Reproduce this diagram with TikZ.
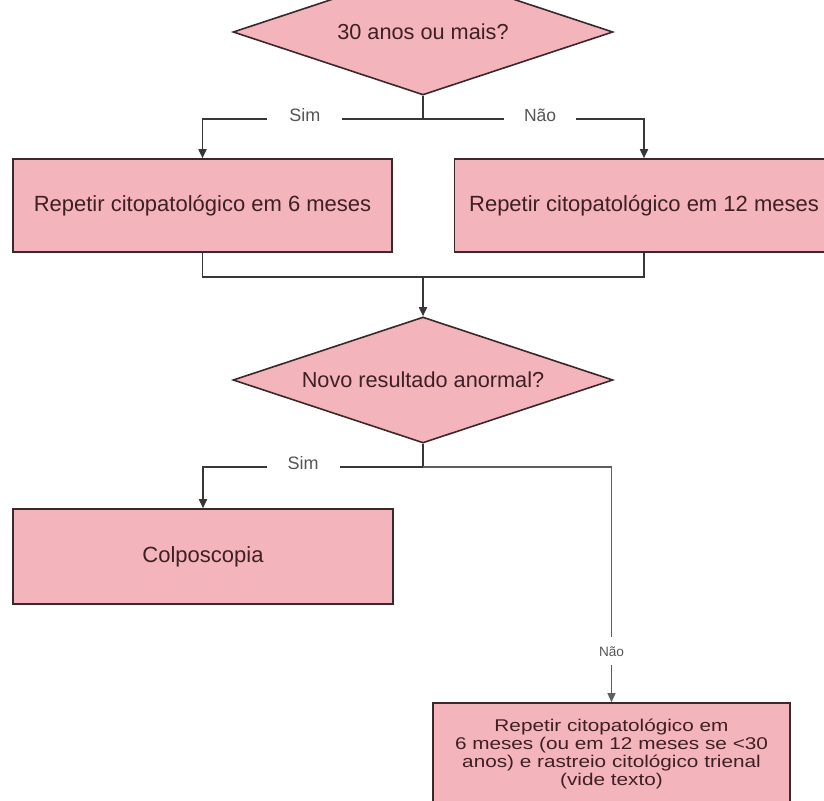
\documentclass[tikz,border=0pt]{standalone}
\usepackage{fontspec}
\setmainfont{Liberation Sans}
\newfontfamily\widefont[FakeStretch=1.22]{Liberation Sans}
\usetikzlibrary{shapes.geometric,arrows.meta}
\definecolor{pinkfill}{RGB}{244,180,187}
\definecolor{edgecol}{RGB}{58,40,42}
\definecolor{txtcol}{RGB}{62,32,36}
\definecolor{linecol}{RGB}{55,55,55}
\definecolor{thincol}{RGB}{95,95,95}
\definecolor{labcol}{RGB}{85,85,85}
\begin{document}
\begin{tikzpicture}[x=1pt,y=-1pt,
  decision/.style={diamond, shape aspect=3.016, draw=edgecol, fill=pinkfill, line width=1.6pt, inner sep=0pt,
    minimum width=380pt, minimum height=126pt, text=txtcol, font=\fontsize{21.7}{26}\selectfont},
  stepbox/.style={rectangle, draw=edgecol, fill=pinkfill, line width=1.6pt, inner sep=0pt,
    text=txtcol, font=\fontsize{22}{26}\selectfont},
  conn/.style={draw=linecol, line width=1.7pt},
  thinconn/.style={draw=thincol, line width=1.3pt},
  tip/.style={-{Triangle[length=9pt,width=8pt]}},
  lab/.style={fill=white, text=labcol, inner ysep=2pt, font=\fontsize{18}{20}\selectfont}]
\useasboundingbox (0,0) rectangle (824,800);
\fill[white] (0,0) rectangle (824,800);

% nodes
\node[decision] (d1) at (423,32) {30 anos ou mais?};
\node[stepbox, minimum width=379pt, minimum height=93pt] (b1) at (202.5,205.5)
  {Repetir citopatológico em 6 meses};
\node[stepbox, minimum width=379pt, minimum height=93pt] (b2) at (644,205.5)
  {Repetir citopatológico em 12 meses};
\node[decision] (d2) at (423,380) {Novo resultado anormal?};
\node[stepbox, minimum width=380pt, minimum height=95pt] (colpo) at (203,556.5) {Colposcopia};
\node[stepbox, minimum width=357pt, minimum height=102pt, align=center,
  font=\widefont\fontsize{17}{18.3}\selectfont] (fin) at (611.5,754)
  {Repetir citopatológico em\\6 meses (ou em 12 meses se <30\\anos) e rastreio citológico trienal\\(vide texto)};

% junction coordinates
\coordinate (j1) at (423,119);
\coordinate (j2) at (423,277);
\coordinate (j3) at (423,467);
\coordinate (j3e) at (471,467);

% connectors
\draw[conn] (d1.south) -- (j1);
\draw[conn, tip] (j1) -| node[lab, pos=0.268, yshift=4pt, inner xsep=22pt] {Sim} (b1.north);
\draw[conn, tip] (j1) -| node[lab, pos=0.265, yshift=4pt, inner xsep=20pt,
  font=\fontsize{17.5}{20}\selectfont] {Não} (b2.north);

\draw[conn] (b1.south) |- (j2);
\draw[conn] (b2.south) |- (j2);
\draw[conn, tip] (j2) -- (d2.north);

\draw[conn] (d2.south) -- (j3);
\draw[conn, tip] (j3e) -| node[lab, pos=0.313, yshift=4pt, inner xsep=21pt] {Sim} (colpo.north);
\draw[thinconn, tip] (j3) -| node[lab, pos=0.892, inner xsep=1pt, inner ysep=9pt,
  font=\fontsize{13.6}{15}\selectfont] {Não} (fin.north);
\end{tikzpicture}
\end{document}
